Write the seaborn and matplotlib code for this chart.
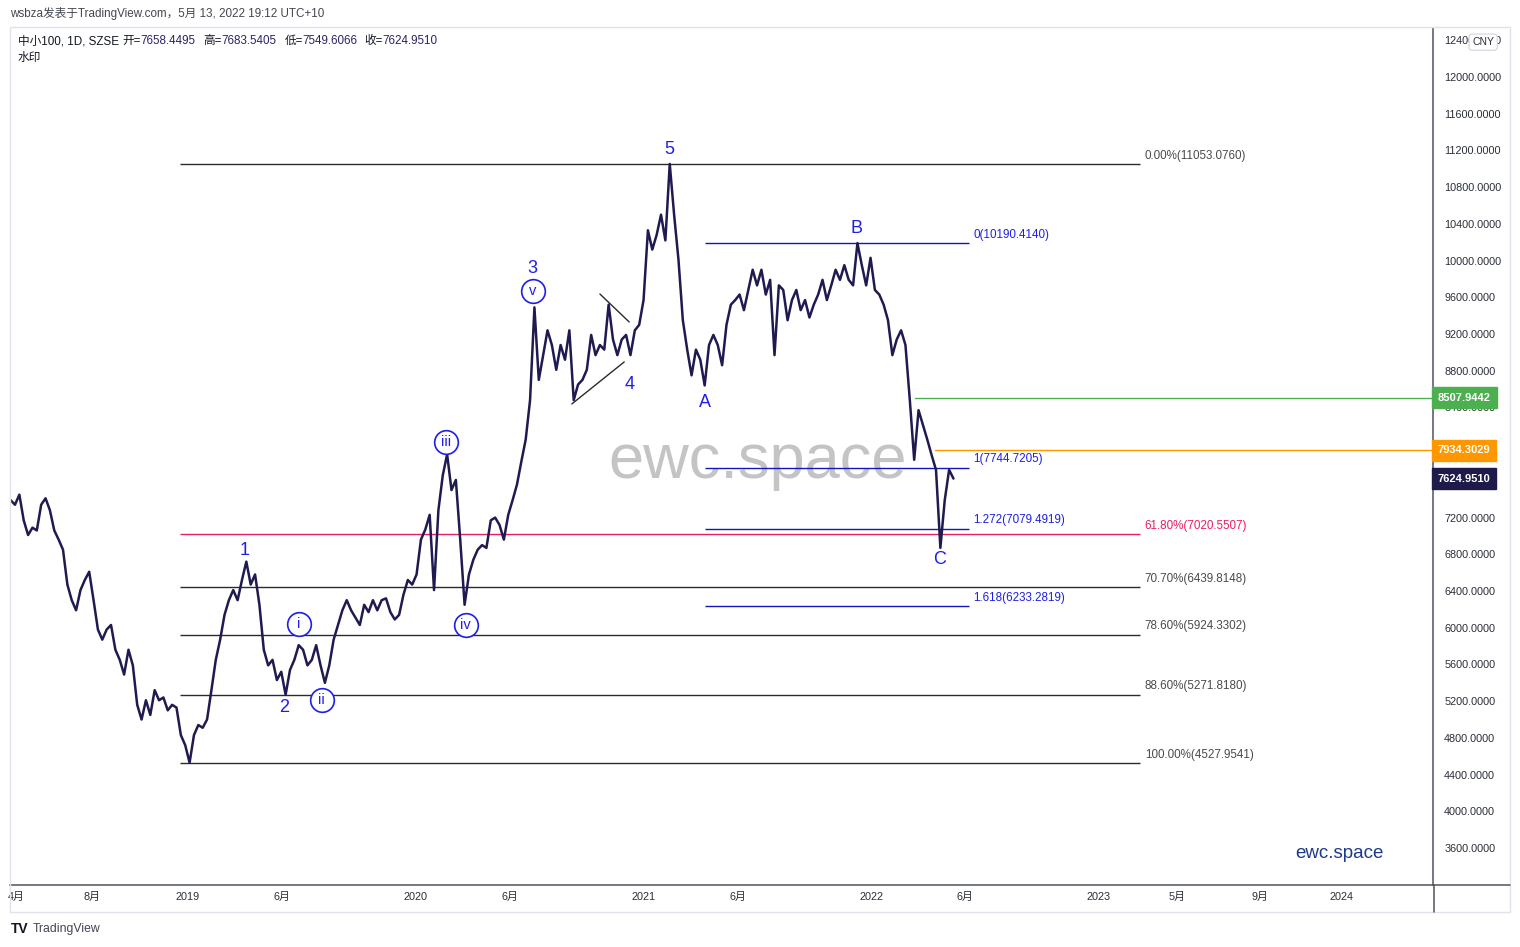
import pandas as pd
import matplotlib
matplotlib.use('Agg')
import matplotlib.pyplot as plt
import matplotlib.transforms as mtransforms
from matplotlib.patches import Rectangle
from matplotlib.lines import Line2D
import seaborn as sns

# weekly closes, last one is 2022-05-13
close = [7390, 7340, 7450, 7170, 7010, 7090, 7060, 7340, 7410, 7280, 7060,
         6960, 6850, 6470, 6300, 6190, 6410, 6520, 6610, 6300, 5980,
         5870, 5980, 6030, 5760, 5650, 5490, 5760, 5590, 5160, 5000,
         5210, 5050, 5320, 5210, 5240, 5100, 5160, 5130, 4830, 4720,
         4530, 4830, 4940, 4910, 5000, 5320, 5650, 5870, 6140, 6300,
         6410, 6300, 6520, 6720, 6470, 6580, 6250, 5760, 5590, 5650,
         5430, 5520, 5270, 5540, 5650, 5810, 5760, 5590, 5650, 5810,
         5590, 5400, 5590, 5870, 6030, 6190, 6300, 6190, 6110, 6030,
         6250, 6170, 6300, 6190, 6300, 6320, 6170, 6090, 6140, 6360,
         6520, 6470, 6580, 6960, 7070, 7230, 6410, 7280, 7660, 7890,
         7500, 7610, 6960, 6250, 6580, 6740, 6850, 6900, 6870, 7170,
         7200, 7120, 6960, 7230, 7390, 7560, 7810, 8050, 8480, 9490,
         8700, 8970, 9240, 9080, 8810, 9080, 8920, 9240, 8480, 8650,
         8700, 8810, 9190, 8970, 9080, 9030, 9520, 9140, 8970, 9140,
         9190, 8970, 9240, 9300, 9570, 10330, 10120, 10280, 10500, 10220,
         11053, 10500, 10010, 9350, 9030, 8750, 9030, 8920, 8640, 9080,
         9190, 9080, 8860, 9300, 9520, 9570, 9630, 9460, 9680, 9900,
         9730, 9900, 9630, 9790, 8970, 9730, 9680, 9350, 9570, 9680,
         9460, 9570, 9380, 9520, 9630, 9790, 9570, 9730, 9900, 9790,
         9950, 9790, 9730, 10190, 9950, 9730, 10030, 9680, 9630, 9520,
         9350, 8970, 9140, 9240, 9080, 8480, 7830, 8370, 8210, 8050,
         7880, 7720, 6870, 7390, 7720, 7625]
dates = pd.date_range(end='2022-05-13', periods=len(close), freq='7D')

# fib retracement (whole move)
fib_levels = [11053.0760, 7020.5507, 6439.8148, 5924.3302, 5271.8180, 4527.9541]
fib_names = ['0.00%', '61.80%', '70.70%', '78.60%', '88.60%', '100.00%']
fib_span = ['2018-12-19', '2023-03-08']

# trend based fib extension (ABC)
ext_levels = [10190.4140, 7744.7205, 7079.4919, 6233.2819]
ext_names = ['0', '1', '1.272', '1.618']
ext_span = ['2021-04-09', '2022-06-07']

# horizontal rays + price tags
ray_levels = [8507.9442, 7934.3029]
ray_start = ['2022-03-12', '2022-04-13']
ray_colors = ['#4caf50', '#ff9800']
last_close = 7624.9510

# wave 4 triangle
tri_upper = (['2020-10-23', '2020-12-09'], [9636, 9331])
tri_lower = (['2020-09-08', '2020-12-01'], [8438, 8896])

# wave labels
wave_txt = ['1', '2', '3', '4', '5', 'A', 'B', 'C']
wave_date = ['2019-04-03', '2019-06-05', '2020-07-07', '2020-12-10', '2021-02-12',
             '2021-04-09', '2021-12-09', '2022-04-20']
wave_price = [6836, 5126, 9919, 8645, 11205, 8449, 10355, 6738]
sub_txt = ['i', 'ii', 'iii', 'iv', 'v']
sub_date = ['2019-06-28', '2019-08-04', '2020-02-19', '2020-03-22', '2020-07-07']
sub_price = [6041, 5213, 8024, 6030, 9669]

xtick_dates = ['2018-04-01', '2018-08-01', '2019-01-01', '2019-06-01', '2020-01-01',
               '2020-06-01', '2021-01-01', '2021-06-01', '2022-01-01', '2022-06-01',
               '2023-01-01', '2023-05-07', '2023-09-17', '2024-01-25']
xtick_labels = ['4月', '8月', '2019', '6月', '2020', '6月', '2021', '6月', '2022', '6月',
                '2023', '5月', '9月', '2024']
# 7600 sits fully under the last-price tag in the reference
yticks = [v for v in range(3600, 12401, 400) if v != 7600]

sns.set_style('white')
plt.rcParams['font.family'] = ['Liberation Sans', 'Noto Sans CJK SC', 'DejaVu Sans']

W, H = 1520, 947
fig = plt.figure(figsize=(W / 100, H / 100), dpi=100)
ax = fig.add_axes([10 / W, (H - 885) / H, 1423 / W, 857 / H])

blue = '#1f1fe6'
dark = '#2a2e39'
line_col = '#1f1a4f'

sns.lineplot(x=dates, y=close, ax=ax, color=line_col, lw=1.8, zorder=3)

ax.set_xlim(pd.Timestamp('2018-03-22'), pd.Timestamp('2024-06-20'))
ax.set_ylim(3197, 12534)

# fib retracement
fs, fe = pd.to_datetime(fib_span)
for lvl, name in zip(fib_levels, fib_names):
    c = '#e91e63' if name == '61.80%' else '#2b2b2b'
    tc = '#e91e63' if name == '61.80%' else '#4a4a4a'
    ax.hlines(lvl, fs, fe, color=c, lw=1, zorder=2)
    ax.annotate(f'{name}({lvl:.4f})', (fe, lvl), xytext=(3.5, 6), textcoords='offset points',
                ha='left', va='center', fontsize=8.4, color=tc)

es, ee = pd.to_datetime(ext_span)
for lvl, name in zip(ext_levels, ext_names):
    ax.hlines(lvl, es, ee, color='#1515c0', lw=1, zorder=2)
    ax.annotate(f'{name}({lvl:.4f})', (ee, lvl), xytext=(3, 6), textcoords='offset points',
                ha='left', va='center', fontsize=8.4, color=blue)

for lvl, st, c in zip(ray_levels, ray_start, ray_colors):
    ax.plot([pd.Timestamp(st), pd.Timestamp('2024-06-21')], [lvl, lvl], color=c, lw=1,
            zorder=2, clip_on=False)

ax.plot(pd.to_datetime(tri_upper[0]), tri_upper[1], color='#2b2b2b', lw=1)
ax.plot(pd.to_datetime(tri_lower[0]), tri_lower[1], color='#2b2b2b', lw=1)

for t, d, p in zip(wave_txt, wave_date, wave_price):
    ax.text(pd.Timestamp(d), p, t, color=blue, fontsize=13, ha='center', va='center', zorder=6)

ax.scatter(pd.to_datetime(sub_date), sub_price, s=290, facecolor='white', edgecolor=blue,
           lw=1.2, zorder=6)
for t, d, p in zip(sub_txt, sub_date, sub_price):
    ax.text(pd.Timestamp(d), p, t, color=blue, fontsize=10.5, ha='center', va='center', zorder=7)

# watermarks
ax.text(0.5256, 0.4936, 'ewc.space', transform=ax.transAxes, fontsize=45.5, color='#c4c4c4',
        ha='center', va='center', zorder=1)
ax.text(0.934, 0.0373, 'ewc.space', transform=ax.transAxes, fontsize=13.5, color='#1e3a8a',
        ha='center', va='center')

# axes styling
ax.set_xlabel('')
ax.set_ylabel('')
ax.grid(False)
for s in ['left', 'top']:
    ax.spines[s].set_visible(False)
for s in ['bottom', 'right']:
    ax.spines[s].set_color('#50535e')
    ax.spines[s].set_linewidth(1.1)
ax.yaxis.tick_right()
ax.set_yticks(yticks)
ax.set_yticklabels([f'{v:.4f}' for v in yticks])
ax.set_xticks(pd.to_datetime(xtick_dates))
ax.set_xticklabels(xtick_labels)
ax.tick_params(axis='both', length=0, labelsize=7.8, labelcolor=dark)
ax.tick_params(axis='y', pad=8)
ax.tick_params(axis='x', pad=5)
for lab in ax.get_yticklabels():
    lab.set_ha('left')

# price tags on the scale
blend = mtransforms.blended_transform_factory(ax.transAxes, ax.transData)
for lvl, c in zip(ray_levels + [last_close], ray_colors + ['#1e1a4a']):
    ax.text(1.0035, lvl, f'{lvl:.4f}', transform=blend, ha='left', va='center', color='white',
            fontsize=8, fontweight='bold', clip_on=False, zorder=10,
            bbox=dict(boxstyle='square,pad=0.5', facecolor=c, edgecolor=c))
ax.text(1.0275, 12380, 'CNY', transform=blend, ha='left', va='center', color=dark,
        fontsize=7.5, clip_on=False, zorder=10,
        bbox=dict(boxstyle='round,pad=0.3', facecolor='white', edgecolor='#d1d4dc', lw=0.8))

# frame
fig.add_artist(Rectangle((10 / W, 1 - 912 / H), 1500 / W, 885 / H, transform=fig.transFigure,
                         fill=False, edgecolor='#e0e3eb', lw=1))
fig.add_artist(Line2D([1433 / W, 1510 / W], [1 - 885 / H] * 2, transform=fig.transFigure,
                      color='#50535e', lw=1.1))
fig.add_artist(Line2D([1433.5 / W] * 2, [1 - 885 / H, 1 - 912 / H], transform=fig.transFigure,
                      color='#50535e', lw=1.1))

# header texts
def ft(x, y, s, **kw):
    fig.text(x / W, 1 - y / H, s, va='center', ha='left', **kw)

ft(10, 14, 'wsbza发表于TradingView.com，5月 13, 2022 19:12 UTC+10', fontsize=8.4, color='#434651')
ft(18, 41, '中小100, 1D, SZSE', fontsize=8.4, color='#131722')
val_col = '#2a2466'
for x0, lab, x1, val in [(122, '开=', 140, '7658.4495'), (203, '高=', 221, '7683.5405'),
                         (285, '低=', 302, '7549.6066'), (364, '收=', 382, '7624.9510')]:
    ft(x0, 41, lab, fontsize=8.4, color='#131722')
    ft(x1, 41, val, fontsize=8.4, color=val_col)
ft(18, 58, '水印', fontsize=8.4, color='#131722')
ft(11, 929, 'TV', fontsize=10, color='#131722', fontweight='bold')
ft(33, 929, 'TradingView', fontsize=8.8, color='#434651')

fig.savefig('out.png', dpi=100, facecolor='white')
